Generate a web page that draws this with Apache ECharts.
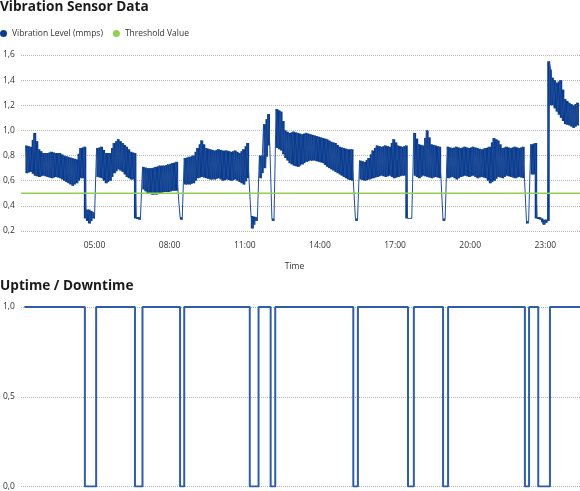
<!DOCTYPE html>
<html><head><meta charset="utf-8">
<script src="https://cdn.jsdelivr.net/npm/echarts@6/dist/echarts.min.js"></script>
<style>html,body{margin:0;padding:0;background:#fff}#c{width:580px;height:491px}</style>
</head><body><div id="c"></div>
<script>
// Time is in minutes since 00:00 (values above 1440 belong to the next day)
const sampleStart = 135;   // first reading, 02:15
const sampleStep = 10;     // each pair: high reading at t, low reading at t + 5
const vibHigh = [
  0.88,0.87,0.98,0.85,0.82,0.82,0.83,0.82,0.82,0.80,
  0.79,0.78,0.77,0.86,0.87,0.37,0.35,0.86,0.87,0.82,
  0.82,0.90,0.93,0.90,0.87,0.83,0.82,0.31,0.71,0.70,
  0.70,0.71,0.72,0.72,0.73,0.74,0.75,0.31,0.78,0.79,
  0.80,0.86,0.92,0.86,0.85,0.84,0.85,0.84,0.84,0.83,
  0.84,0.82,0.85,0.90,0.32,0.31,0.80,1.05,1.13,0.30,
  1.17,1.15,1.00,0.98,0.99,0.98,0.97,0.98,0.97,0.96,
  0.95,0.94,0.93,0.91,0.90,0.87,0.86,0.85,0.85,0.30,
  0.76,0.75,0.78,0.84,0.88,0.87,0.88,0.87,0.93,0.88,
  0.87,0.88,0.30,0.98,0.89,0.88,1.00,0.89,0.88,0.87,
  0.28,0.87,0.86,0.87,0.86,0.87,0.86,0.87,0.86,0.85,
  0.86,0.87,0.94,0.92,0.86,0.87,0.86,0.87,0.86,0.87,
  0.26,0.89,0.90,0.31,0.25,0.28,1.42,1.38,1.40,1.25,
  1.22,1.20,1.22
];
const vibLow = [
  0.66,0.67,0.64,0.63,0.64,0.63,0.62,0.63,0.62,0.60,
  0.58,0.56,0.58,0.62,0.30,0.26,0.30,0.63,0.62,0.58,
  0.60,0.66,0.69,0.67,0.63,0.61,0.30,0.29,0.53,0.50,
  0.49,0.49,0.50,0.51,0.51,0.52,0.52,0.29,0.57,0.57,
  0.58,0.62,0.63,0.62,0.61,0.61,0.62,0.60,0.61,0.60,
  0.61,0.59,0.57,0.62,0.22,0.28,0.62,0.70,0.88,0.28,
  0.86,0.84,0.78,0.74,0.72,0.71,0.73,0.75,0.76,0.76,
  0.75,0.74,0.71,0.69,0.67,0.65,0.63,0.61,0.60,0.28,
  0.61,0.60,0.61,0.62,0.63,0.64,0.63,0.64,0.62,0.63,
  0.64,0.30,0.30,0.64,0.62,0.64,0.63,0.62,0.63,0.62,
  0.30,0.62,0.63,0.61,0.63,0.64,0.63,0.64,0.62,0.63,
  0.62,0.58,0.60,0.63,0.62,0.64,0.63,0.62,0.63,0.62,
  0.28,0.65,0.30,0.29,0.29,1.55,1.20,1.15,1.10,1.05,
  1.04,1.02,1.04
];
const thresholdValue = 0.5;
const statusTimes  = [132,277,304,397,415,505,515,672,693,722,733,920,931,1051,1065,1135,1147,1331,1341,1363,1391,1463];
const statusValues = [1,0,1,0,1,0,1,0,1,0,1,0,1,0,1,0,1,0,1,0,1,1];
const timeTicks = [300,480,660,840,1020,1200,1380];
const timeMin = 124, timeMax = 1463;

// zig-zag trace (high, low, high, low ...) and the filled envelope of each reading pair
const vibData = [], bandData = [];
for (let i = 0; i < vibHigh.length; i++) {
  const t = sampleStart + i * sampleStep;
  const last = i + 1 >= vibHigh.length;
  vibData.push([t, vibHigh[i]]);
  vibData.push([t + sampleStep / 2, vibLow[i]]);
  bandData.push([t, vibLow[i], vibHigh[i], t + sampleStep / 2,
                 last ? vibLow[i] : vibLow[i + 1], last ? vibHigh[i] : vibHigh[i + 1],
                 last ? t + sampleStep / 2 : t + sampleStep]);
}
const statusData = statusTimes.map((t, i) => [t, statusValues[i]]);
const thresholdData = [[timeMin, thresholdValue], [timeMax, thresholdValue]];

const fmtTime = m => { const h = Math.floor(m / 60) % 24, mm = Math.round(m % 60); return String(h).padStart(2,'0') + ':' + String(mm).padStart(2,'0'); };
const fmtNum = v => v.toFixed(1).replace('.', ',');
const FONT = 'Open Sans';
const NAVY = '#0b3b8c';
const lbl = { fontSize: 8.5, color: '#333', fontFamily: FONT };
const dotted = { show: true, lineStyle: { type: 'dotted', color: '#b5b5b5', width: 1 } };

function rectBetween(api, x0, x1, v0, v1) {
  const p0 = api.coord([x0, Math.max(v0, v1)]);
  const p1 = api.coord([x1, Math.min(v0, v1)]);
  return { type: 'rect', shape: { x: p0[0] - 0.2, y: p0[1], width: p1[0] - p0[0] + 0.4, height: p1[1] - p0[1] },
           style: { fill: NAVY } };
}
// between two readings: blend the envelope when they are close, keep only the shared part at jumps
function joinEdge(a, b, pick) { return Math.abs(a - b) < 0.2 ? (a + b) / 2 : pick(a, b); }
function renderBand(params, api) {
  const t0 = api.value(0), lo = api.value(1), hi = api.value(2), tm = api.value(3);
  const lo2 = api.value(4), hi2 = api.value(5), t1 = api.value(6);
  const children = [rectBetween(api, t0, tm, lo, hi)];
  const top = joinEdge(Math.max(lo, hi), Math.max(lo2, hi2), Math.min);
  const bot = joinEdge(Math.min(lo, hi), Math.min(lo2, hi2), Math.max);
  if (t1 > tm && top > bot) children.push(rectBetween(api, tm, t1, bot, top));
  return { type: 'group', children: children };
}

const chart = echarts.init(document.getElementById('c'), null, { renderer: 'canvas' });
chart.setOption({
  animation: false,
  textStyle: { fontFamily: FONT },
  title: [
    { text: 'Vibration Sensor Data', left: 0, top: 0, padding: 0, textStyle: { fontSize: 13.6, fontWeight: 'bold', color: '#1a1a1a', fontFamily: FONT } },
    { text: 'Uptime / Downtime', left: 0, top: 279, padding: 0, textStyle: { fontSize: 13.6, fontWeight: 'bold', color: '#1a1a1a', fontFamily: FONT } }
  ],
  legend: {
    left: 0, top: 29, padding: 0, itemWidth: 7, itemHeight: 7, itemGap: 10, icon: 'circle',
    textStyle: { fontSize: 8.5, color: '#333', fontFamily: FONT },
    data: ['Vibration Level (mmps)', 'Threshold Value']
  },
  grid: [
    { left: 18, right: 0, top: 55, height: 176 },
    { left: 18, right: 0, top: 307, height: 180 }
  ],
  xAxis: [
    { type: 'value', gridIndex: 0, min: timeMin, max: timeMax,
      axisLine: { show: false }, axisTick: { show: false }, splitLine: { show: false },
      axisLabel: Object.assign({ customValues: timeTicks, margin: 10, formatter: fmtTime }, lbl),
      name: 'Time', nameLocation: 'middle', nameGap: 31,
      nameTextStyle: Object.assign({ padding: [0, 12, 0, 0] }, lbl) },
    { type: 'value', gridIndex: 1, min: timeMin, max: timeMax, show: false }
  ],
  yAxis: [
    { type: 'value', gridIndex: 0, min: 0.2, max: 1.6, interval: 0.2,
      axisLine: { show: false }, axisTick: { show: false }, splitLine: dotted,
      axisLabel: Object.assign({ margin: 18, align: 'left', formatter: fmtNum }, lbl) },
    { type: 'value', gridIndex: 1, min: 0, max: 1, interval: 0.5,
      axisLine: { show: false }, axisTick: { show: false }, splitLine: dotted,
      axisLabel: Object.assign({ margin: 18, align: 'left', formatter: fmtNum }, lbl) }
  ],
  series: [
    { name: 'band', type: 'custom', xAxisIndex: 0, yAxisIndex: 0, data: bandData,
      renderItem: renderBand, silent: true, clip: true, z: 1,
      encode: { x: [0, 3, 6], y: [1, 2, 4, 5] } },
    { name: 'Vibration Level (mmps)', type: 'line', xAxisIndex: 0, yAxisIndex: 0, data: vibData,
      showSymbol: false, symbol: 'circle', sampling: null, color: NAVY,
      lineStyle: { width: 1, color: '#1d4c9a' }, z: 2 },
    { name: 'Threshold Value', type: 'line', xAxisIndex: 0, yAxisIndex: 0, data: thresholdData,
      showSymbol: false, symbol: 'circle', color: '#8fd14f',
      lineStyle: { width: 1.5, color: '#8fd14f' }, z: 3 },
    { name: 'Uptime', type: 'line', xAxisIndex: 1, yAxisIndex: 1, data: statusData, step: 'end',
      showSymbol: false, color: '#2f5ea8', lineStyle: { width: 2, color: '#2f5ea8' } }
  ]
});
</script></body></html>
